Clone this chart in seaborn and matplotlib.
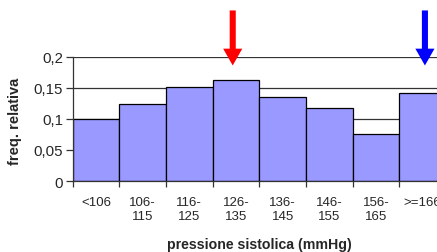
import numpy as np
import matplotlib
matplotlib.use('Agg')
import matplotlib.pyplot as plt
import seaborn as sns
from matplotlib.patches import FancyArrow

# Data
categories = ['<106', '106-\n115', '116-\n125', '126-\n135', '136-\n145',
              '146-\n155', '156-\n165', '>=166']
freq = [0.100, 0.123, 0.151, 0.162, 0.135, 0.118, 0.075, 0.141]
yticks = [0, 0.05, 0.1, 0.15, 0.2]
ytick_labels = ['0', '0,05', '0,1', '0,15', '0,2']

sns.set_style('white')
plt.rcParams['font.family'] = ['Liberation Sans', 'DejaVu Sans']

fig = plt.figure(figsize=(4.37, 2.53), dpi=100)
ax = fig.add_axes([0.1664, 0.2806, 0.854, 0.4921])

sns.barplot(x=list(range(len(freq))), y=freq, ax=ax, width=1.0,
            color='#9999ff', saturation=1, edgecolor='black',
            linewidth=0.9, zorder=3)

ax.set_xlim(-0.5, 7.5)
ax.set_ylim(0, 0.2)

# gridlines behind the bars
for v in yticks[1:]:
    ax.axhline(v, color='#333333', lw=0.9, zorder=1)

ax.set_yticks(yticks)
ax.set_yticklabels(ytick_labels, fontsize=10.8)
ax.set_xticks(range(len(categories)))
ax.set_xticklabels(categories, fontsize=9.5, linespacing=1.18)
ax.set_xticks(np.arange(-0.5, 8, 1), minor=True)
ax.tick_params(axis='x', which='major', length=0, pad=11)
ax.tick_params(axis='x', which='minor', length=4, width=0.9, color='#333333', direction='out', bottom=True)
ax.tick_params(axis='y', length=5, width=0.9, color='#333333', direction='out', left=True, pad=2)

for side in ['top', 'right']:
    ax.spines[side].set_visible(False)
for side in ['left', 'bottom']:
    ax.spines[side].set_color('#333333')
    ax.spines[side].set_linewidth(0.9)
    ax.spines[side].set_zorder(4)

ax.set_xlabel('pressione sistolica (mmHg)', fontsize=10.2, fontweight='bold', va='center')
ax.set_ylabel('freq. relativa', fontsize=10.5, fontweight='bold', va='center')
ax.xaxis.set_label_coords(0.5, -0.506)
ax.yaxis.set_label_coords(-0.1546, 0.486)

# arrows above the modal classes
for xc, col in [(2.93, '#ff0000'), (7.05, '#0000ff')]:
    arr = FancyArrow(xc, 0.274, 0, -0.0884, width=0.13, head_width=0.41,
                     head_length=0.027, length_includes_head=True,
                     color=col, clip_on=False, zorder=5, lw=0)
    ax.add_patch(arr)

fig.savefig('out.png', dpi=100)
